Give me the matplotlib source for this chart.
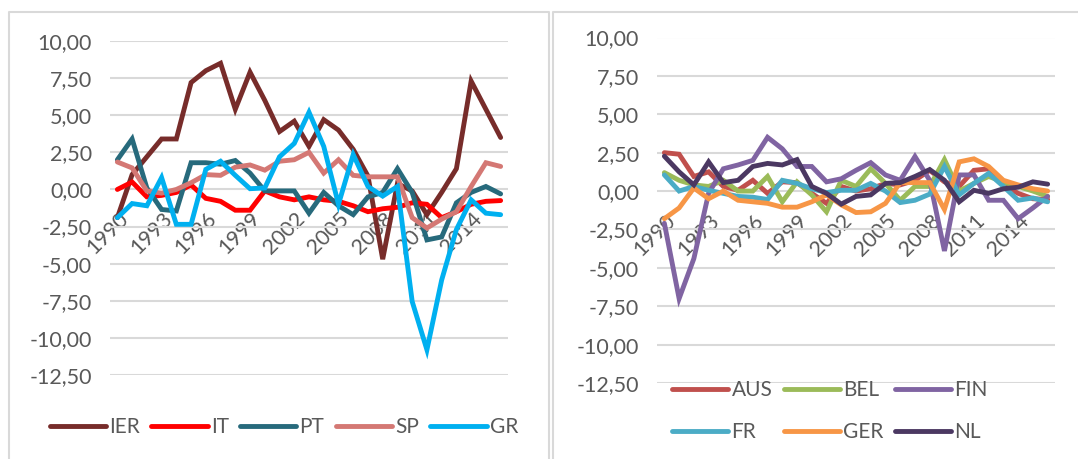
import numpy as np
import matplotlib.pyplot as plt
from matplotlib.lines import Line2D

plt.rcParams['font.family'] = ['Lato', 'DejaVu Sans']

# DATA
years = list(range(1990, 2017))

ier = [-1.9, 1.0, 2.2, 3.4, 3.4, 7.2, 8.0, 8.5, 5.4, 7.9, 6.0, 3.9, 4.6, 2.9, 4.7, 4.0, 2.7, 0.9, -4.7, 0.4, -0.1, -1.7, -0.2, 1.4, 7.3, 5.4, 3.5]
it = [0.0, 0.5, -0.5, -0.4, -0.2, 0.3, -0.6, -0.8, -1.4, -1.4, -0.1, -0.5, -0.7, -0.5, -0.7, -0.8, -1.1, -1.5, -1.3, -1.2, -0.9, -1.0, -1.9, -1.5, -1.0, -0.8, -0.75]
pt = [2.0, 3.4, 0.1, -1.35, -1.45, 1.8, 1.8, 1.7, 1.95, 1.1, -0.1, -0.1, -0.1, -1.6, -0.2, -1.1, -1.7, -0.5, -0.2, 1.4, -0.2, -3.4, -3.2, -0.9, -0.2, 0.2, -0.3]
sp = [1.85, 1.45, -0.1, -0.25, 0.0, 0.45, 1.0, 0.95, 1.5, 1.65, 1.3, 1.9, 2.0, 2.5, 1.1, 2.0, 0.95, 0.85, 0.85, 0.85, -1.9, -2.6, -2.0, -1.5, 0.2, 1.8, 1.55]
gr = [-1.9, -0.95, -1.1, 0.8, -2.35, -2.35, 1.35, 1.9, 0.95, 0.05, 0.1, 2.2, 3.1, 5.2, 2.9, -1.0, 2.35, 0.2, -0.45, 0.2, -7.55, -10.8, -6.1, -2.7, -0.7, -1.6, -1.7]

aus = [2.5, 2.4, 0.95, 1.25, 0.3, 0.05, 0.7, -0.15, 0.6, 0.55, -0.15, -0.8, 0.3, 0.0, 0.15, 0.5, 0.4, 0.7, 1.35, 0.6, 0.3, 1.35, 1.45, 0.4, -0.15, -0.5, -0.55]
bel = [1.2, 0.7, 0.4, 0.3, 0.7, 0.0, 0.0, 0.95, -0.7, 0.6, -0.25, -1.35, 0.7, 0.3, 1.45, 0.5, -0.6, 0.3, 0.3, 2.05, 0.0, 0.5, 0.95, 0.6, 0.3, 0.0, -0.35]
fin = [-2.1, -7.0, -4.4, -0.15, 1.45, 1.7, 2.0, 3.5, 2.75, 1.6, 1.6, 0.6, 0.8, 1.35, 1.85, 1.05, 0.7, 2.25, 0.7, -3.9, 1.05, 1.05, -0.6, -0.6, -1.8, -1.1, -0.35]
fr = [1.05, 0.0, 0.3, 0.05, -0.15, -0.35, -0.4, -0.55, 0.7, 0.5, 0.15, -0.1, 0.05, 0.05, 0.5, 0.0, -0.75, -0.6, -0.2, 1.6, -0.25, 0.5, 1.15, 0.3, -0.6, -0.45, -0.7]
ger = [-1.8, -1.1, 0.2, -0.5, 0.0, -0.6, -0.7, -0.8, -1.05, -1.05, -0.7, -0.25, -0.9, -1.4, -1.35, -0.8, 0.55, 0.55, 0.55, -1.2, 1.9, 2.1, 1.6, 0.7, 0.4, 0.15, 0.0]
nl = [2.27, 1.25, 0.4, 1.9, 0.55, 0.7, 1.6, 1.8, 1.7, 2.05, 0.3, -0.15, -0.85, -0.35, -0.25, 0.5, 0.55, 0.95, 1.4, 0.7, -0.7, 0.05, -0.15, 0.15, 0.25, 0.6, 0.45]

left_names = ["IER", "IT", "PT", "SP", "GR"]
left_series = [ier, it, pt, sp, gr]
left_colors = ["#772C2A", "#FF0000", "#276A7C", "#D47874", "#00B0F0"]

right_names = ["AUS", "BEL", "FIN", "FR", "GER", "NL"]
right_series = [aus, bel, fin, fr, ger, nl]
right_colors = ["#C0504D", "#9BBB59", "#8064A2", "#4BACC6", "#F79646", "#4B3862"]

yticks = np.arange(-12.5, 10.01, 2.5)
W, H = 1078, 459
GRID = "#D9D9D9"
TXT = "#595959"
FS = 15
TICK_FS = 15.5

fig = plt.figure(figsize=(W / 100, H / 100), dpi=100)


def fx(px):
    return px / W


def fy(py):
    return 1 - py / H


# PANEL BORDERS
for xs, ys in [([9, 9, 549, 549], [470, 12, 12, 470]),
               ([553, 553, 1090], [470, 12, 12])]:
    fig.add_artist(Line2D([fx(v) for v in xs], [fy(v) for v in ys],
                          color=GRID, lw=1.5, transform=fig.transFigure))


def draw_panel(rect, names, series, colors):
    ax = fig.add_axes(rect)
    x = np.arange(len(years))
    for name, vals, c in zip(names, series, colors):
        ax.plot(x, vals, color=c, lw=3.5, label=name, zorder=3,
                solid_joinstyle="miter", solid_capstyle="round")
    ax.set_xlim(-0.5, len(years) - 0.5)
    ax.set_ylim(-12.5, 10)
    ax.set_yticks(yticks)
    ax.set_yticklabels([f"{v:.2f}".replace(".", ",") for v in yticks],
                       fontsize=TICK_FS, color=TXT)
    ax.set_xticks([])
    ax.yaxis.grid(True, color=GRID, lw=1.5, zorder=0)
    ax.tick_params(axis="y", length=0, pad=13)
    for s in ax.spines.values():
        s.set_visible(False)
    # year labels sit just under the zero line, rotated
    for i, yr in enumerate(years):
        if i % 3 == 0:
            ax.annotate(str(yr), xy=(i, 0), xytext=(5.5, -19),
                        textcoords="offset points", rotation=45,
                        rotation_mode="anchor", ha="right", va="center",
                        fontsize=TICK_FS, color=TXT, zorder=1)
    return ax


ax1 = draw_panel([fx(110), fy(375), fx(398), (375 - 41) / H],
                 left_names, left_series, left_colors)
ax2 = draw_panel([fx(657), fy(383), fx(398), (383 - 37.5) / H],
                 right_names, right_series, right_colors)

# LEGENDS
h1, l1 = ax1.get_legend_handles_labels()
fig.legend(h1, l1, loc="center", bbox_to_anchor=(fx(284), fy(427)),
           ncol=5, frameon=False, fontsize=FS, handlelength=2.7,
           handletextpad=0.15, columnspacing=0.55, labelcolor=TXT)

h2, l2 = ax2.get_legend_handles_labels()
order = [0, 3, 1, 4, 2, 5]
fig.legend([h2[k] for k in order], [l2[k] for k in order], loc="center",
           bbox_to_anchor=(fx(830), fy(411)), ncol=3, frameon=False,
           fontsize=FS, handlelength=2.7, handletextpad=0.15,
           columnspacing=0.55, labelspacing=1.05, labelcolor=TXT)

fig.savefig("out.png", dpi=100, facecolor="white")
